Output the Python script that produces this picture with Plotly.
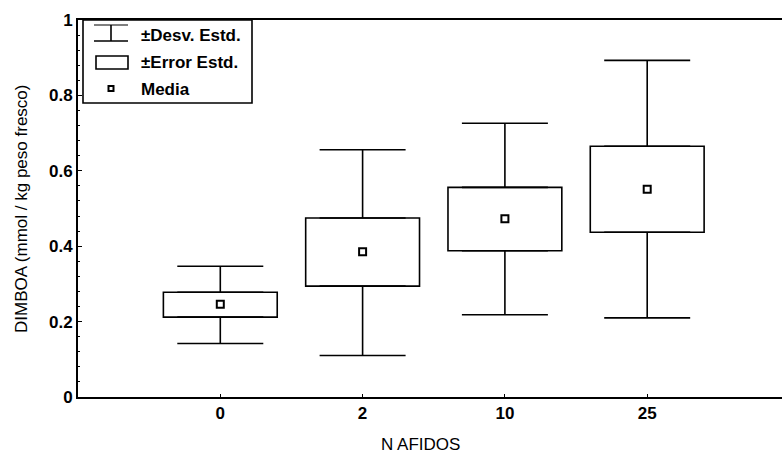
import plotly.graph_objects as go

# ---- data ----
categories = ["0", "2", "10", "25"]
media = [0.246, 0.385, 0.473, 0.551]
se_hi = [0.278, 0.475, 0.556, 0.665]
se_lo = [0.212, 0.294, 0.388, 0.437]
sd_hi = [0.347, 0.656, 0.726, 0.893]
sd_lo = [0.142, 0.110, 0.218, 0.210]
y_ticks = [0, 0.2, 0.4, 0.6, 0.8, 1]
y_tick_text = ["0", "0.2", "0.4", "0.6", "0.8", "1"]
legend_labels = ["\u00b1Desv. Estd.", "\u00b1Error Estd.", "Media"]

W, H = 782, 454
ML, MR, MT, MB = 78, 0, 20, 57
PW, PH = W - ML - MR, H - MT - MB
FONT = "Liberation Sans, Arial, sans-serif"


def px(x):
    return (x - ML) / PW


def py(y):
    return (H - MB - y) / PH


fig = go.Figure()

# SE boxes
fig.add_trace(go.Bar(
    x=categories,
    base=se_lo,
    y=[h - l for h, l in zip(se_hi, se_lo)],
    width=0.8,
    marker=dict(color="white", line=dict(color="black", width=1.6)),
    showlegend=False, hoverinfo="skip",
))

# upper whiskers
fig.add_trace(go.Scatter(
    x=categories, y=se_hi, mode="markers",
    marker=dict(size=1, color="rgba(0,0,0,0)"),
    error_y=dict(type="data", symmetric=False,
                 array=[h - s for h, s in zip(sd_hi, se_hi)],
                 arrayminus=[0] * len(categories),
                 color="black", thickness=1.6, width=43),
    showlegend=False, hoverinfo="skip",
))
# lower whiskers
fig.add_trace(go.Scatter(
    x=categories, y=se_lo, mode="markers",
    marker=dict(size=1, color="rgba(0,0,0,0)"),
    error_y=dict(type="data", symmetric=False,
                 array=[0] * len(categories),
                 arrayminus=[s - l for s, l in zip(se_lo, sd_lo)],
                 color="black", thickness=1.6, width=43),
    showlegend=False, hoverinfo="skip",
))
# means
fig.add_trace(go.Scatter(
    x=categories, y=media, mode="markers",
    marker=dict(symbol="square-open", size=7, color="black", line=dict(width=2)),
    showlegend=False,
))

# ---- manual legend (layout decoration) ----
shapes = []
shapes.append(dict(type="rect", xref="paper", yref="paper",
                   x0=px(83), x1=px(252), y0=py(103), y1=py(20),
                   line=dict(color="black", width=1.6), fillcolor="white", layer="above"))
# error-bar icon
shapes.append(dict(type="line", xref="paper", yref="paper",
                   x0=px(94), x1=px(128), y0=py(25), y1=py(25),
                   line=dict(color="black", width=1.2)))
shapes.append(dict(type="line", xref="paper", yref="paper",
                   x0=px(94), x1=px(128), y0=py(41), y1=py(41),
                   line=dict(color="black", width=1.6)))
shapes.append(dict(type="line", xref="paper", yref="paper",
                   x0=px(111), x1=px(111), y0=py(25), y1=py(41),
                   line=dict(color="black", width=1.6)))
# box icon
shapes.append(dict(type="rect", xref="paper", yref="paper",
                   x0=px(96), x1=px(128), y0=py(69), y1=py(56),
                   line=dict(color="black", width=1.6)))
# mean icon
shapes.append(dict(type="rect", xref="paper", yref="paper",
                   x0=px(108.5), x1=px(113.5), y0=py(91), y1=py(86),
                   line=dict(color="black", width=2)))

annotations = []
for lab, yy in zip(legend_labels, [35, 62, 89]):
    annotations.append(dict(xref="paper", yref="paper", x=px(139), y=py(yy),
                            text=lab, showarrow=False, xanchor="left", yanchor="middle",
                            font=dict(family=FONT, size=17, color="black", weight="bold")))

# axis titles
annotations.append(dict(xref="paper", yref="paper", x=px(420), y=py(444),
                        text="N AFIDOS", showarrow=False, xanchor="center", yanchor="middle",
                        font=dict(family=FONT, size=17, color="black")))
annotations.append(dict(xref="paper", yref="paper", x=px(21), y=py(209),
                        text="DIMBOA (mmol / kg peso fresco)", showarrow=False,
                        textangle=-90, xanchor="center", yanchor="middle",
                        font=dict(family=FONT, size=17, color="black")))

fig.update_layout(
    width=W, height=H,
    margin=dict(l=ML, r=MR, t=MT, b=MB),
    paper_bgcolor="white", plot_bgcolor="white",
    shapes=shapes, annotations=annotations,
    showlegend=False,
    xaxis=dict(
        type="category", range=[-1, -1 + PW / 142.3],
        showline=True, linecolor="black", linewidth=2, mirror=True,
        ticks="inside", ticklen=3, tickcolor="black",
        showgrid=False, zeroline=False,
        tickfont=dict(family=FONT, size=17, color="black", weight="bold"),
    ),
    yaxis=dict(
        range=[0, 1], tickvals=y_ticks, ticktext=y_tick_text,
        showline=True, linecolor="black", linewidth=2,
        ticks="inside", ticklen=4, tickcolor="black",
        minor=dict(ticks="inside", ticklen=2, dtick=0.04, tickcolor="black", showgrid=False),
        showgrid=False, zeroline=False,
        tickfont=dict(family=FONT, size=17, color="black", weight="bold"),
    ),
)

fig.write_html("out.html", config={"displayModeBar": False},
               post_script="document.body.style.margin='0';document.body.style.overflow='hidden';")
